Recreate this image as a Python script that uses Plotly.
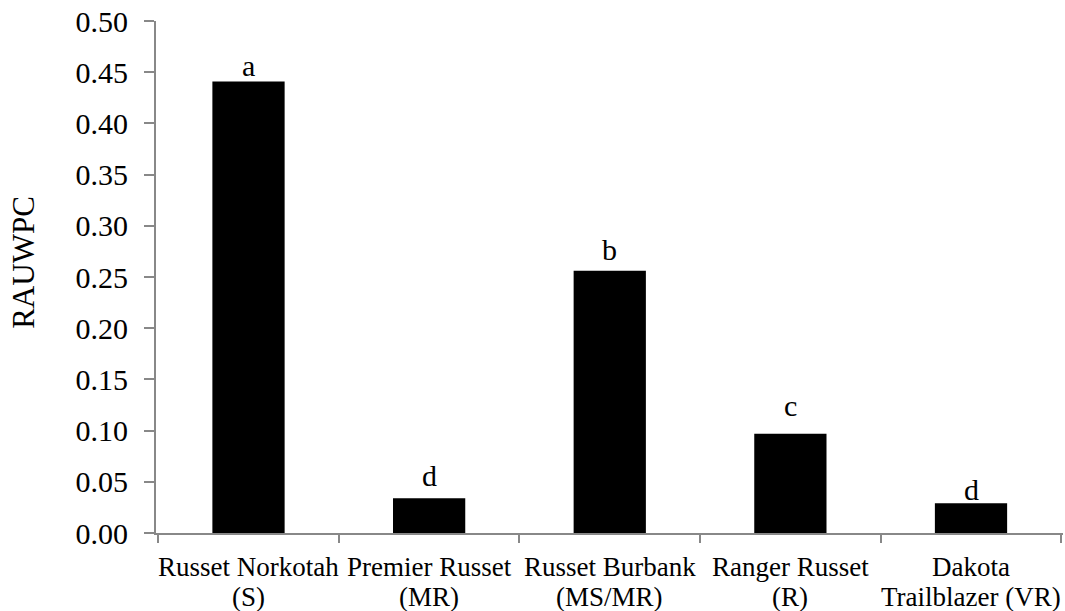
import plotly.graph_objects as go

categories = ["Russet Norkotah (S)", "Premier Russet (MR)", "Russet Burbank (MS/MR)",
              "Ranger Russet (R)", "Dakota Trailblazer (VR)"]
label_line1 = ["Russet Norkotah", "Premier Russet", "Russet Burbank", "Ranger Russet", "Dakota"]
label_line2 = ["(S)", "(MR)", "(MS/MR)", "(R)", "Trailblazer (VR)"]
rauwpc = [0.441, 0.034, 0.256, 0.097, 0.029]
letters = ["a", "d", "b", "c", "d"]
letter_y = [0.4455, 0.0456, 0.2665, 0.114, 0.0313]
y_ticks = [0.00, 0.05, 0.10, 0.15, 0.20, 0.25, 0.30, 0.35, 0.40, 0.45, 0.50]

FONT = "Liberation Serif, Times New Roman, serif"
AXC = "#888888"

fig = go.Figure()
fig.add_trace(go.Bar(x=categories, y=rauwpc, width=0.4,
                     marker=dict(color="black", line=dict(width=0)),
                     showlegend=False))

annotations = []
for c, l, ly in zip(categories, letters, letter_y):
    annotations.append(dict(x=c, y=ly, xref="x", yref="y", text=l, showarrow=False,
                            yanchor="bottom", yshift=-7.5,
                            font=dict(family=FONT, size=30, color="black")))
for c, t1, t2 in zip(categories, label_line1, label_line2):
    annotations.append(dict(x=c, y=0, xref="x", yref="paper", text=t1, showarrow=False,
                            yanchor="top", yshift=-16.6,
                            font=dict(family=FONT, size=27, color="black")))
    annotations.append(dict(x=c, y=0, xref="x", yref="paper", text=t2, showarrow=False,
                            yanchor="top", yshift=-47.3,
                            font=dict(family=FONT, size=27, color="black")))
annotations.append(dict(x=-0.147, y=0.529, xref="paper", yref="paper", text="RAUWPC",
                        showarrow=False, textangle=-90, xanchor="center", yanchor="middle",
                        font=dict(family=FONT, size=31, color="black")))

fig.update_layout(
    width=1065, height=611,
    margin=dict(l=156, r=2, t=21, b=78),
    plot_bgcolor="white", paper_bgcolor="white",
    font=dict(family=FONT, color="black"),
    annotations=annotations,
    bargap=0.6,
)
fig.update_xaxes(type="category", showticklabels=False, tickson="boundaries",
                 ticks="outside", ticklen=8, tickwidth=2, tickcolor=AXC,
                 showline=True, linecolor=AXC, linewidth=2, showgrid=False, zeroline=False)
fig.update_yaxes(range=[0, 0.5], tickvals=y_ticks, ticktext=[f"{v:.2f}" for v in y_ticks],
                 ticks="outside", ticklen=10, tickwidth=2, tickcolor=AXC,
                 ticklabelstandoff=10,
                 tickfont=dict(family=FONT, size=30, color="black"),
                 showline=True, linecolor=AXC, linewidth=2, showgrid=False, zeroline=False)

fig.write_html("out.html", config={"displayModeBar": False},
               post_script="document.body.style.margin='0';document.body.style.overflow='hidden';")
